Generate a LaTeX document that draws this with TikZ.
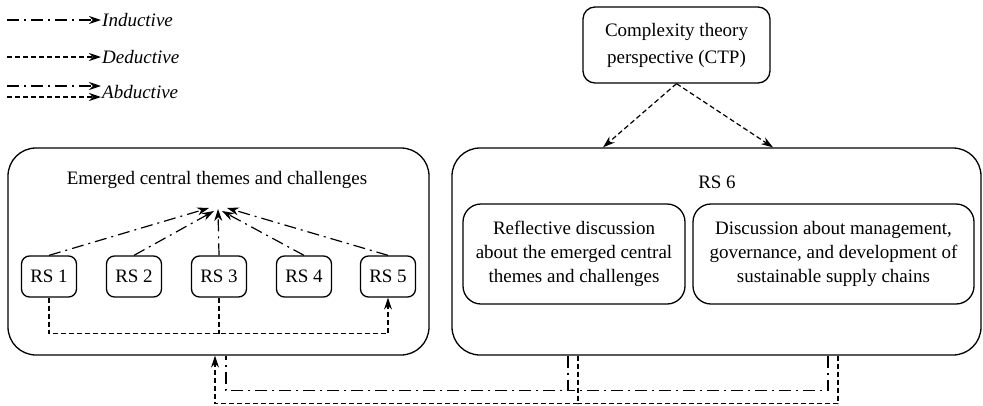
\documentclass[tikz,border=0pt]{standalone}
\usepackage{fontspec}
\setmainfont{Liberation Serif}
\usetikzlibrary{arrows.meta,positioning}

\tikzset{
  box/.style={draw, line width=1.3pt, align=center, inner sep=0pt},
  bigbox/.style={box, rounded corners=28pt},
  rsbox/.style={box, rounded corners=8pt, minimum width=55pt, minimum height=41pt},
  txtbox/.style={box, rounded corners=18pt, minimum height=100pt},
  ind/.style={line width=1.2pt, dash pattern=on 12pt off 5pt on 2pt off 5pt},
  ded/.style={line width=1.2pt, dash pattern=on 5pt off 3pt},
  arr/.style={-{Stealth[length=12pt,width=8pt]}},
  lgd/.style={anchor=west, inner sep=1pt, font=\fontsize{19}{24}\selectfont\itshape}
}

\begin{document}
\begin{tikzpicture}[x=1pt, y=-1pt, font=\fontsize{19}{24}\selectfont]
\useasboundingbox (0,0) rectangle (983,405);

% legend
\node[lgd] (lind) at (101,20) {Inductive};
\node[lgd] (lded) at (101,57) {Deductive};
\node[lgd] (labd) at (101,92) {Abductive};
\coordinate (lind0) at (7,20);
\coordinate (lded0) at (7,57);
\coordinate (labd1) at (7,86);
\coordinate (labd2) at (7,97);
\coordinate (labd1e) at (101,86);
\coordinate (labd2e) at (101,97);
\draw[ind,arr] (lind0) -- (lind.west);
\draw[ded,arr] (lded0) -- (lded.west);
\draw[ind,arr] (labd1) -- (labd1e);
\draw[ded,arr] (labd2) -- (labd2e);

% boxes
\node[box, rounded corners=12pt, minimum width=187pt, minimum height=76pt,
      font=\fontsize{19}{27}\selectfont] (ctp) at (676.5,45)
      {Complexity theory\\perspective (CTP)};
\node[bigbox, minimum width=421pt, minimum height=207pt] (left) at (218.5,251.5) {};
\node[bigbox, minimum width=529pt, minimum height=207pt] (right) at (716.5,251.5) {};
\node (lefttitle) at (217,180) {Emerged central themes and challenges};
\node (rstitle) at (717,182) {RS 6};
\node[txtbox, minimum width=222pt] (refl) at (574,254)
      {Reflective discussion\\about the emerged central\\themes and challenges};
\node[txtbox, minimum width=281pt] (disc) at (833.5,254)
      {Discussion about management,\\governance, and development of\\sustainable supply chains};

\foreach \i/\x in {1/49,2/134,3/219,4/304,5/388}
  \node[rsbox] (rs\i) at (\x,276.5) {RS \i};

% inductive arrows to the themes
\foreach \i/\x/\y in {1/209/208,2/214/211,3/218/209,4/222/211,5/227/208} {
  \coordinate (c\i) at (\x,\y);
  \draw[ind,arr] (rs\i.north) -- (c\i);
}

% deductive loop
\draw[ded,arr] (rs1.south) -- ++(0,36) -| (rs5.south);
\draw[ded] (rs3.south) -- ++(0,36);

% CTP to RS 6
\draw[ded,arr] (ctp.south) -- ([xshift=-113.5pt]right.north);
\draw[ded,arr] (ctp.south) -- ([xshift=56.5pt]right.north);

% abductive feedback
\draw[ind] ([xshift=-148.5pt]right.south) -- ++(0,35) -| ([xshift=7.5pt]left.south);
\draw[ind] ([xshift=111.5pt]right.south) -- ++(0,35) -- ++(-260,0);
\draw[ded,arr] ([xshift=-138.5pt]right.south) -- ++(0,48) -| ([xshift=-3.5pt]left.south);
\draw[ded] ([xshift=121.5pt]right.south) -- ++(0,48) -- ++(-260,0);
\end{tikzpicture}
\end{document}
